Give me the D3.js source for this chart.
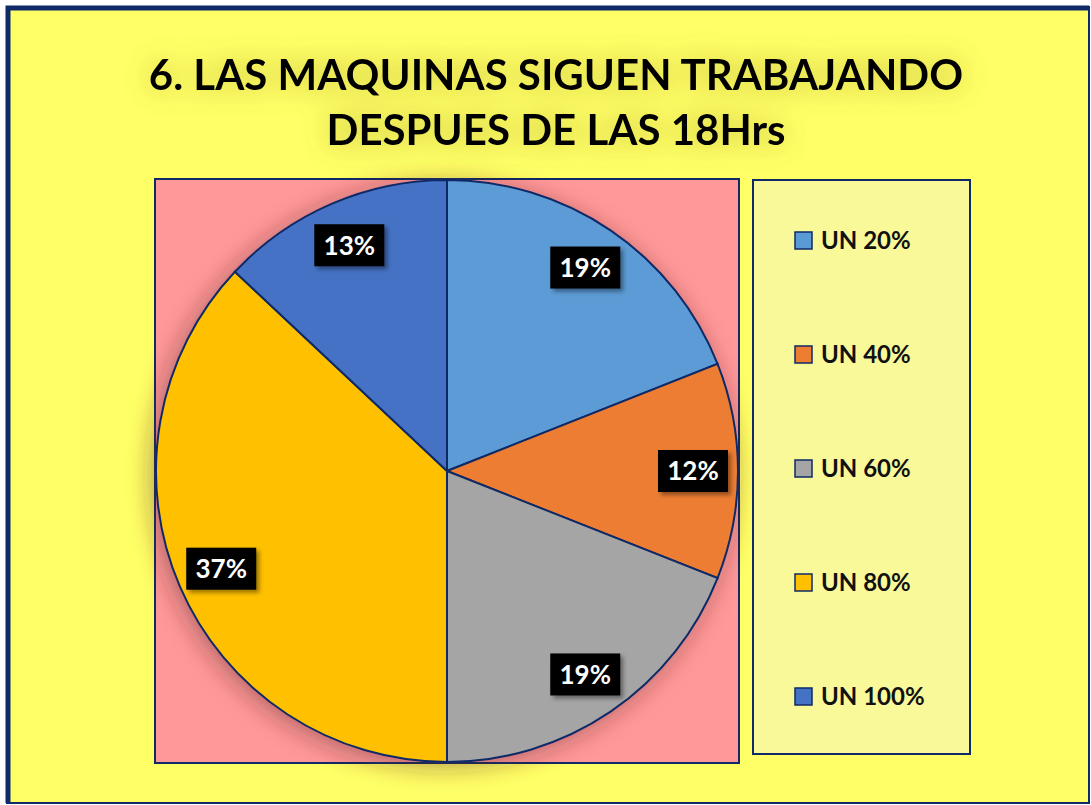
<!DOCTYPE html>
<html>
<head>
<meta charset="utf-8">
<script src="https://cdn.jsdelivr.net/npm/d3@7"></script>
<style>
  body { margin: 0; background: #ffffff; }
  text { font-family: Lato, "Open Sans", sans-serif; }
</style>
</head>
<body>
<div id="chart"></div>
<script>
var width = 1091, height = 805;

// chart data
var categories = ["UN 20%", "UN 40%", "UN 60%", "UN 80%", "UN 100%"];
var values = [19, 12, 19, 37, 13];
var colors = ["#5B9BD5", "#ED7D31", "#A5A5A5", "#FFC000", "#4472C4"];
var titleLines = ["6. LAS MAQUINAS SIGUEN TRABAJANDO", "DESPUES DE LAS 18Hrs"];

var navy = "#0F2A66";

var svg = d3.select("#chart")
  .append("svg")
  .attr("width", width)
  .attr("height", height);

var defs = svg.append("defs");

var glow = defs.append("filter").attr("id", "glow")
  .attr("x", "-20%").attr("y", "-20%").attr("width", "140%").attr("height", "140%");
glow.append("feGaussianBlur").attr("in", "SourceAlpha").attr("stdDeviation", 14).attr("result", "b");
glow.append("feFlood").attr("flood-color", "#7a6a00").attr("flood-opacity", 0.45);
glow.append("feComposite").attr("in2", "b").attr("operator", "in").attr("result", "s");
var gm = glow.append("feMerge");
gm.append("feMergeNode").attr("in", "s");
gm.append("feMergeNode").attr("in", "SourceGraphic");

var pieShadow = defs.append("filter").attr("id", "pieShadow")
  .attr("x", "-20%").attr("y", "-20%").attr("width", "140%").attr("height", "140%");
pieShadow.append("feGaussianBlur").attr("in", "SourceAlpha").attr("stdDeviation", 12).attr("result", "b");
pieShadow.append("feOffset").attr("dx", -4).attr("dy", 4).attr("result", "o");
pieShadow.append("feFlood").attr("flood-color", "#5a2020").attr("flood-opacity", 0.45);
pieShadow.append("feComposite").attr("in2", "o").attr("operator", "in").attr("result", "s");
var pm = pieShadow.append("feMerge");
pm.append("feMergeNode").attr("in", "s");
pm.append("feMergeNode").attr("in", "SourceGraphic");

var boxShadow = defs.append("filter").attr("id", "boxShadow")
  .attr("x", "-30%").attr("y", "-30%").attr("width", "160%").attr("height", "160%");
boxShadow.append("feDropShadow").attr("dx", 3).attr("dy", 3).attr("stdDeviation", 2)
  .attr("flood-color", "#000").attr("flood-opacity", 0.4);

// background
svg.append("rect")
  .attr("x", 7).attr("y", 7)
  .attr("width", 1082).attr("height", 796)
  .attr("fill", "#FFFF66")
  .attr("stroke", navy).attr("stroke-width", 2);
svg.append("path")
  .attr("d", "M8,803 V8 H1089")
  .attr("fill", "none")
  .attr("stroke", navy).attr("stroke-width", 5);

// title
svg.append("g")
  .attr("filter", "url(#glow)")
  .selectAll("text")
  .data(titleLines)
  .enter().append("text")
  .attr("x", 556)
  .attr("y", (d, i) => 90 + i * 55)
  .attr("text-anchor", "middle")
  .style("font-size", "42px")
  .style("font-weight", "bold")
  .style("fill", "#000")
  .text(d => d);

// plot area
var plot = { x: 155, y: 179, w: 584, h: 584 };
svg.append("rect")
  .attr("x", plot.x).attr("y", plot.y)
  .attr("width", plot.w).attr("height", plot.h)
  .attr("fill", "#FF9999")
  .attr("stroke", navy).attr("stroke-width", 2);

var cx = plot.x + plot.w / 2, cy = plot.y + plot.h / 2;
var radius = 291;

var pie = d3.pie().sort(null).value(d => d);
var arcs = pie(values);
var arc = d3.arc().innerRadius(0).outerRadius(radius);
var labelArc = d3.arc().innerRadius(246).outerRadius(246);

var pg = svg.append("g")
  .attr("transform", "translate(" + cx + "," + cy + ")");

pg.append("g")
  .attr("filter", "url(#pieShadow)")
  .selectAll("path")
  .data(arcs)
  .enter().append("path")
  .attr("d", arc)
  .attr("fill", (d, i) => colors[i])
  .attr("stroke", navy)
  .attr("stroke-width", 2);

var total = d3.sum(values);
var lab = pg.selectAll("g.lab")
  .data(arcs)
  .enter().append("g")
  .attr("class", "lab")
  .attr("transform", d => "translate(" + labelArc.centroid(d) + ")");

lab.append("rect")
  .attr("x", -35).attr("y", -21)
  .attr("width", 70).attr("height", 42)
  .attr("fill", "#000")
  .attr("filter", "url(#boxShadow)");

lab.append("text")
  .attr("text-anchor", "middle")
  .attr("dy", "0.36em")
  .style("font-size", "26px")
  .style("font-weight", "bold")
  .style("fill", "#fff")
  .text(d => Math.round(d.value / total * 100) + "%");

// legend
svg.append("rect")
  .attr("x", 753).attr("y", 180)
  .attr("width", 217).attr("height", 574)
  .attr("fill", "#FAF99A")
  .attr("stroke", navy).attr("stroke-width", 2);

var legendY = d3.scalePoint()
  .domain(categories)
  .range([240, 696]);

var leg = svg.selectAll("g.leg")
  .data(categories)
  .enter().append("g")
  .attr("class", "leg")
  .attr("transform", d => "translate(795," + legendY(d) + ")");

leg.append("rect")
  .attr("x", 0).attr("y", -8)
  .attr("width", 17).attr("height", 17)
  .attr("fill", (d, i) => colors[i])
  .attr("stroke", navy).attr("stroke-width", 1.5);

leg.append("text")
  .attr("x", 26)
  .attr("dy", "0.36em")
  .style("font-size", "24px")
  .style("font-weight", "bold")
  .style("fill", "#111")
  .text(d => d);
</script>
</body>
</html>
